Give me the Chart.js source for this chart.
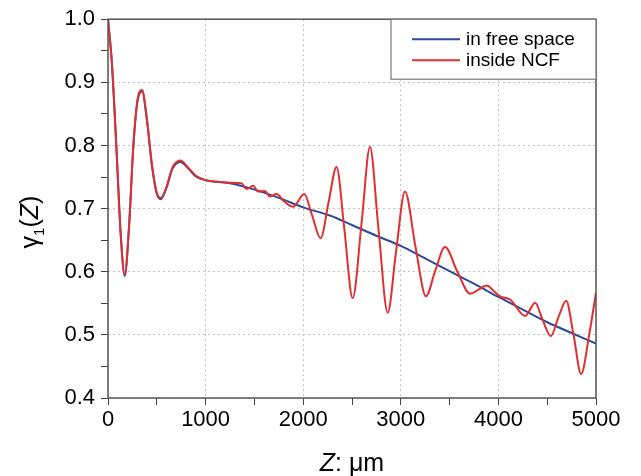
<!DOCTYPE html>
<html>
<head>
<meta charset="utf-8">
<script src="https://cdn.jsdelivr.net/npm/chart.js@4.4.1/dist/chart.umd.min.js"></script>
<style>
  html, body { margin: 0; padding: 0; background: #fff; }
  #wrap { width: 641px; height: 476px; }
</style>
</head>
<body>
<div id="wrap"><canvas id="coherenceChart"></canvas></div>
<script>
// values
const zFree = [0, 40, 85, 130, 171, 215, 260, 300, 349, 400, 450, 500, 541, 600, 660, 742, 820, 900, 1000,
  1250, 1500, 1750, 2000, 2273, 2500, 2750, 3000, 3250, 3500, 3750, 4000, 4250, 4500, 4750, 5000];
const gammaFree = [1.0, 0.93, 0.80, 0.66, 0.593, 0.67, 0.80, 0.868, 0.886, 0.838, 0.768, 0.723, 0.715, 0.733, 0.763, 0.774, 0.764, 0.751, 0.745,
  0.740, 0.730, 0.717, 0.702, 0.689, 0.674, 0.657, 0.641, 0.621, 0.601, 0.581, 0.560, 0.540, 0.520, 0.503, 0.486];

const zNcf = [0, 40, 85, 130, 171, 215, 260, 300, 349, 400, 450, 500, 541, 600, 660, 742, 820, 900, 1000,
  1100, 1248, 1368, 1420, 1487, 1538, 1607, 1658, 1727, 1800, 1897, 2010, 2090, 2178, 2260, 2342, 2420, 2507,
  2600, 2684, 2770, 2866, 2950, 3043, 3150, 3258, 3350, 3453, 3580, 3710, 3800, 3881, 3950, 4017, 4120,
  4274, 4377, 4450, 4537, 4620, 4694, 4770, 4848, 4930, 5000];
const gammaNcf = [1.0, 0.93, 0.80, 0.66, 0.595, 0.67, 0.80, 0.87, 0.888, 0.84, 0.77, 0.725, 0.717, 0.735, 0.765, 0.776, 0.765, 0.752, 0.745,
  0.743, 0.741, 0.740, 0.731, 0.736, 0.727, 0.728, 0.719, 0.723, 0.712, 0.703, 0.723, 0.69, 0.653, 0.71, 0.766, 0.67, 0.558,
  0.68, 0.798, 0.67, 0.535, 0.63, 0.727, 0.64, 0.561, 0.60, 0.639, 0.60, 0.565, 0.572, 0.578, 0.570, 0.561, 0.556,
  0.530, 0.551, 0.525, 0.498, 0.53, 0.554, 0.50, 0.438, 0.50, 0.567];

const xLabels = [0, 1000, 2000, 3000, 4000, 5000];
const yLabels = [0.4, 0.5, 0.6, 0.7, 0.8, 0.9, 1.0];

const seriesNames = ['in free space', 'inside NCF'];
const blue = '#2c4a9c';
const red = '#e02f2f';

const toPoints = (xs, ys) => xs.map((x, i) => ({ x: x, y: ys[i] }));
const isMajorX = v => xLabels.some(t => Math.abs(t - v) < 1e-6);
const isMajorY = v => yLabels.some(t => Math.abs(t - v) < 1e-6);

const FONT = '"Liberation Sans", Arial, sans-serif';

// frame, axis titles and legend box
const decorations = {
  id: 'decorations',
  afterDraw(chart) {
    const ctx = chart.ctx;
    const a = chart.chartArea;
    ctx.save();
    ctx.strokeStyle = '#555';
    ctx.lineWidth = 1.5;
    ctx.strokeRect(a.left, a.top, a.right - a.left, a.bottom - a.top);

    // x title
    ctx.fillStyle = '#000';
    ctx.textBaseline = 'alphabetic';
    const italic = 'italic 25px ' + FONT;
    const normal = '25px ' + FONT;
    ctx.font = italic;
    const wZ = ctx.measureText('Z').width;
    ctx.font = normal;
    const wRest = ctx.measureText(': \u03bcm').width;
    let x0 = (a.left + a.right) / 2 - (wZ + wRest) / 2;
    ctx.font = italic;
    ctx.textAlign = 'left';
    ctx.fillText('Z', x0, 471);
    ctx.font = normal;
    ctx.fillText(': \u03bcm', x0 + wZ, 471);

    // y title
    ctx.save();
    ctx.translate(38, 222);
    ctx.rotate(-Math.PI / 2);
    const parts = [
      { t: '\u03b3', f: normal, dy: 0 },
      { t: '1', f: '15px ' + FONT, dy: 6 },
      { t: '(', f: normal, dy: 0 },
      { t: 'Z', f: italic, dy: 0 },
      { t: ')', f: normal, dy: 0 }
    ];
    let total = 0;
    parts.forEach(p => { ctx.font = p.f; p.w = ctx.measureText(p.t).width; total += p.w; });
    let px = -total / 2;
    parts.forEach(p => { ctx.font = p.f; ctx.fillText(p.t, px, p.dy); px += p.w; });
    ctx.restore();

    // legend
    const lx = 391, ly = a.top, lw = a.right - 391, lh = 60;
    ctx.fillStyle = '#fff';
    ctx.fillRect(lx, ly, lw, lh);
    ctx.strokeStyle = '#777';
    ctx.lineWidth = 1.2;
    ctx.strokeRect(lx, ly, lw, lh);
    ctx.font = '19px ' + FONT;
    ctx.textBaseline = 'middle';
    chart.data.datasets.forEach((ds, i) => {
      const yy = ly + 20 + i * 21;
      ctx.strokeStyle = ds.borderColor;
      ctx.lineWidth = 2;
      ctx.beginPath();
      ctx.moveTo(412, yy);
      ctx.lineTo(460, yy);
      ctx.stroke();
      ctx.fillStyle = '#000';
      ctx.fillText(ds.label, 466, yy + 1);
    });
    ctx.restore();
  }
};

new Chart(document.getElementById('coherenceChart').getContext('2d'), {
  type: 'line',
  data: {
    datasets: [{
      label: seriesNames[0],
      data: toPoints(zFree, gammaFree),
      borderColor: blue,
      borderWidth: 2,
      pointRadius: 0,
      cubicInterpolationMode: 'monotone',
      order: 2
    }, {
      label: seriesNames[1],
      data: toPoints(zNcf, gammaNcf),
      borderColor: red,
      borderWidth: 2,
      pointRadius: 0,
      cubicInterpolationMode: 'monotone',
      order: 1
    }]
  },
  plugins: [decorations],
  options: {
    responsive: true,
    maintainAspectRatio: false,
    animation: false,
    layout: { padding: { top: 19, right: 45, left: 0, bottom: 0 } },
    plugins: {
      legend: { display: false },
      tooltip: { enabled: false }
    },
    scales: {
      x: {
        type: 'linear',
        min: 0,
        max: 5000,
        afterFit(scale) { scale.height = 78; },
        ticks: {
          stepSize: 500,
          autoSkip: false,
          maxRotation: 0,
          padding: 2,
          color: '#000',
          font: { family: FONT, size: 22 },
          callback: v => isMajorX(v) ? String(v) : ''
        },
        grid: {
          color: c => (c.tick && isMajorX(c.tick.value)) ? '#c0c0c0' : 'rgba(0,0,0,0)',
          tickColor: '#444',
          tickLength: 7,
          lineWidth: 1
        },
        border: { display: false, dash: [2, 3] }
      },
      y: {
        min: 0.4,
        max: 1.0,
        afterFit(scale) { scale.width = 108; },
        ticks: {
          stepSize: 0.05,
          autoSkip: false,
          padding: 6,
          color: '#000',
          font: { family: FONT, size: 22 },
          callback: v => isMajorY(v) ? v.toFixed(1) : ''
        },
        grid: {
          color: c => (c.tick && isMajorY(c.tick.value)) ? '#c0c0c0' : 'rgba(0,0,0,0)',
          tickColor: '#444',
          tickLength: 7,
          lineWidth: 1
        },
        border: { display: false, dash: [2, 3] }
      }
    }
  }
});
</script>
</body>
</html>
